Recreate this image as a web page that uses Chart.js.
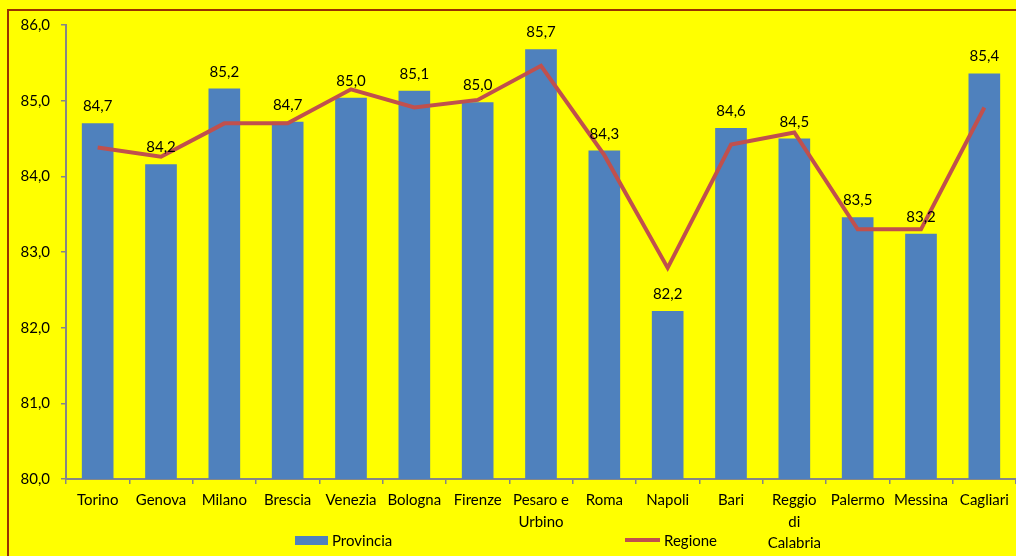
<!DOCTYPE html>
<html>
<head>
<meta charset="utf-8">
<script src="https://cdn.jsdelivr.net/npm/chart.js@4/dist/chart.umd.min.js"></script>
<style>
  html, body { margin: 0; padding: 0; background: #FFFF00; overflow: hidden; }
  canvas { display: block; }
</style>
</head>
<body>
<canvas id="chart" width="1016" height="556"></canvas>
<script>
const categories = ['Torino', 'Genova', 'Milano', 'Brescia', 'Venezia', 'Bologna', 'Firenze',
    ['Pesaro e', 'Urbino'], 'Roma', 'Napoli', 'Bari', ['Reggio', 'di', 'Calabria'],
    'Palermo', 'Messina', 'Cagliari'];
const provincia = [84.70, 84.16, 85.16, 84.72, 85.04, 85.13, 84.98, 85.68, 84.34, 82.22, 84.64, 84.50, 83.46, 83.24, 85.36];
const regione = [84.38, 84.26, 84.70, 84.70, 85.15, 84.91, 85.01, 85.46, 84.28, 82.79, 84.42, 84.58, 83.30, 83.30, 84.91];
const yTicks = [80, 81, 82, 83, 84, 85, 86];

const FONT = 'Lato, "Open Sans", sans-serif';
const barColor = '#4F81BD';
const lineColor = '#C0504D';
const axisColor = '#868686';

function fmt(v) {
    return v.toFixed(1).replace('.', ',');
}

// yellow background + dark red frame (cut off on the right and bottom)
const framePlugin = {
    id: 'frame',
    beforeDraw(chart) {
        const ctx = chart.ctx;
        ctx.save();
        ctx.fillStyle = '#FFFF00';
        ctx.fillRect(0, 0, chart.width, chart.height);
        ctx.strokeStyle = '#993300';
        ctx.lineWidth = 2;
        ctx.strokeRect(8, 10, 1200, 700);
        ctx.restore();
    }
};

// value labels above the bars
const valueLabels = {
    id: 'valueLabels',
    afterDatasetsDraw(chart) {
        const ctx = chart.ctx;
        const meta = chart.getDatasetMeta(0);
        ctx.save();
        ctx.font = '15px ' + FONT;
        ctx.fillStyle = '#000';
        ctx.textAlign = 'center';
        ctx.textBaseline = 'alphabetic';
        meta.data.forEach((bar, i) => {
            ctx.fillText(fmt(provincia[i]), bar.x, bar.y - 12);
        });
        ctx.restore();
    }
};

// legend sits over the bottom of the axis labels, so drawn by hand
const bottomLegend = {
    id: 'bottomLegend',
    afterDraw(chart) {
        const ctx = chart.ctx;
        const y = 540;
        ctx.save();
        ctx.font = '15px ' + FONT;
        ctx.textBaseline = 'middle';
        ctx.fillStyle = barColor;
        ctx.fillRect(295, y - 4, 33, 9);
        ctx.fillStyle = '#000';
        ctx.fillText(chart.data.datasets[0].label, 332, y + 1);
        ctx.strokeStyle = lineColor;
        ctx.lineWidth = 4;
        ctx.beginPath();
        ctx.moveTo(625, y);
        ctx.lineTo(660, y);
        ctx.stroke();
        ctx.fillText(chart.data.datasets[1].label, 664, y + 1);
        ctx.restore();
    }
};

new Chart(document.getElementById('chart').getContext('2d'), {
    type: 'bar',
    data: {
        labels: categories,
        datasets: [{
            type: 'bar',
            label: 'Provincia',
            data: provincia,
            backgroundColor: barColor,
            borderWidth: 0,
            barPercentage: 0.5,
            categoryPercentage: 1,
            order: 1
        }, {
            type: 'line',
            label: 'Regione',
            data: regione,
            borderColor: lineColor,
            borderWidth: 4,
            pointRadius: 0,
            tension: 0,
            fill: false,
            order: 0
        }]
    },
    options: {
        responsive: false,
        animation: false,
        layout: {
            padding: { left: 8, top: 25, right: 0, bottom: 0 }
        },
        plugins: {
            legend: { display: false },
            tooltip: { enabled: false }
        },
        scales: {
            x: {
                offset: true,
                grid: {
                    display: true,
                    drawOnChartArea: false,
                    offset: true,
                    color: axisColor,
                    tickLength: 5,
                    lineWidth: 1.5
                },
                border: { color: axisColor, width: 2 },
                ticks: {
                    color: '#000',
                    font: { family: FONT, size: 15, lineHeight: 1.42 },
                    padding: 6,
                    maxRotation: 0,
                    autoSkip: false
                },
                afterFit(scale) { scale.height = 77; }
            },
            y: {
                min: 80,
                max: 86,
                afterBuildTicks(scale) {
                    scale.ticks = yTicks.map(v => ({ value: v }));
                },
                grid: {
                    display: true,
                    drawOnChartArea: false,
                    color: axisColor,
                    tickLength: 5,
                    lineWidth: 1.5
                },
                border: { color: axisColor, width: 2 },
                ticks: {
                    color: '#000',
                    font: { family: FONT, size: 15 },
                    padding: 11,
                    callback: v => fmt(v)
                },
                afterFit(scale) { scale.width = 58; }
            }
        }
    },
    plugins: [framePlugin, valueLabels, bottomLegend]
});
</script>
</body>
</html>
